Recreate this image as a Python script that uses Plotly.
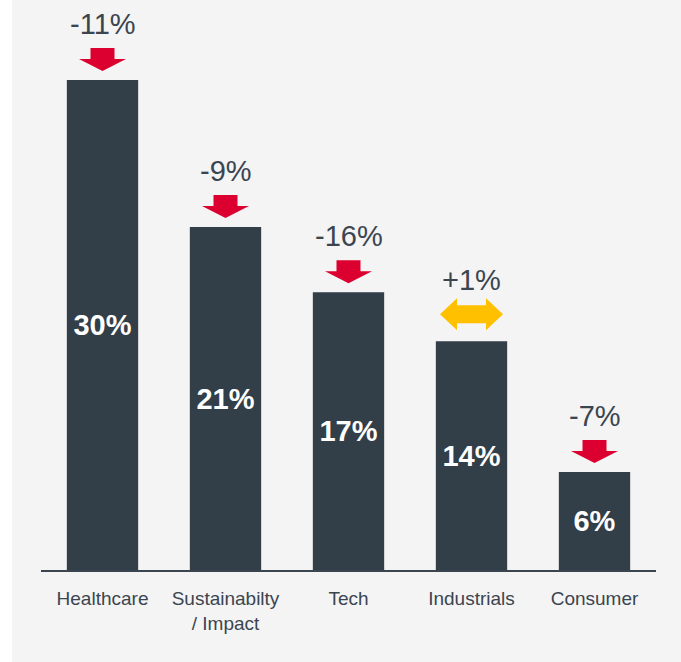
import plotly.graph_objects as go

# Sector shares and their year-over-year change
sectors = ["Healthcare", "Sustainabilty<br>/ Impact", "Tech", "Industrials", "Consumer"]
shares = [30, 21, 17, 14, 6]
changes = [-11, -9, -16, 1, -7]

BAR = "#323e48"
TEXT = "#3b4550"
RED = "#dc0030"
AMBER = "#ffc000"
BG = "#f4f4f4"
FONT = "Arial, Liberation Sans, sans-serif"

W, H = 681, 662
ML, MR, MT, MB = 41, 25, 0, 92

fig = go.Figure(
    go.Bar(
        x=sectors,
        y=shares,
        marker=dict(color=BAR, line=dict(width=0)),
        text=[f"{v}%" for v in shares],
        textposition="inside",
        insidetextanchor="middle",
        textangle=0,
        textfont=dict(family=FONT, size=29, color="white", weight="bold"),
        hoverinfo="skip",
    )
)

# Down arrow (decline) and double arrow (flat), in pixels relative to bar top
down_arrow = "M -12,32 L 12,32 L 12,21 L 23.5,21 L 0,9 L -23.5,21 L -12,21 Z"
flat_arrow = ("M -31.5,27 L -14.5,43 L -14.5,36 L 14.5,36 L 14.5,43 L 31.5,27 "
              "L 14.5,11 L 14.5,18 L -14.5,18 L -14.5,11 Z")

shapes = []
annotations = []
for name, val, chg in zip(sectors, shares, changes):
    is_down = chg < 0
    shapes.append(dict(
        type="path",
        xref="x", yref="y",
        xsizemode="pixel", ysizemode="pixel",
        xanchor=name, yanchor=val,
        path=down_arrow if is_down else flat_arrow,
        fillcolor=RED if is_down else AMBER,
        line=dict(width=0),
        layer="above",
    ))
    annotations.append(dict(
        x=name, y=val, xref="x", yref="y",
        text=f"{chg:+d}%",
        showarrow=False,
        yanchor="middle",
        yshift=56 if is_down else 61,
        font=dict(family=FONT, size=29, color=TEXT),
    ))

# White strip along the left edge of the page
shapes.append(dict(
    type="rect", xref="paper", yref="paper",
    x0=-ML / (W - ML - MR), x1=(12 - ML) / (W - ML - MR),
    y0=-MB / (H - MT - MB), y1=1 + MT / (H - MT - MB),
    fillcolor="white", line=dict(width=0), layer="below",
))

fig.update_layout(
    width=W, height=H,
    margin=dict(l=ML, r=MR, t=MT, b=MB, pad=0),
    paper_bgcolor=BG,
    plot_bgcolor=BG,
    bargap=0.42,
    showlegend=False,
    shapes=shapes,
    annotations=annotations,
    font=dict(family=FONT, color=TEXT),
)
fig.update_xaxes(
    type="category",
    range=[-0.5, 4.5],
    showline=True, linecolor="#3a4550", linewidth=2,
    showgrid=False, zeroline=False,
    ticks="", ticklabelstandoff=10,
    tickfont=dict(family=FONT, size=19, color=TEXT),
)
fig.update_yaxes(
    range=[0, 34.9],
    visible=False,
    showgrid=False, zeroline=False,
)

fig.write_html("out.html")
